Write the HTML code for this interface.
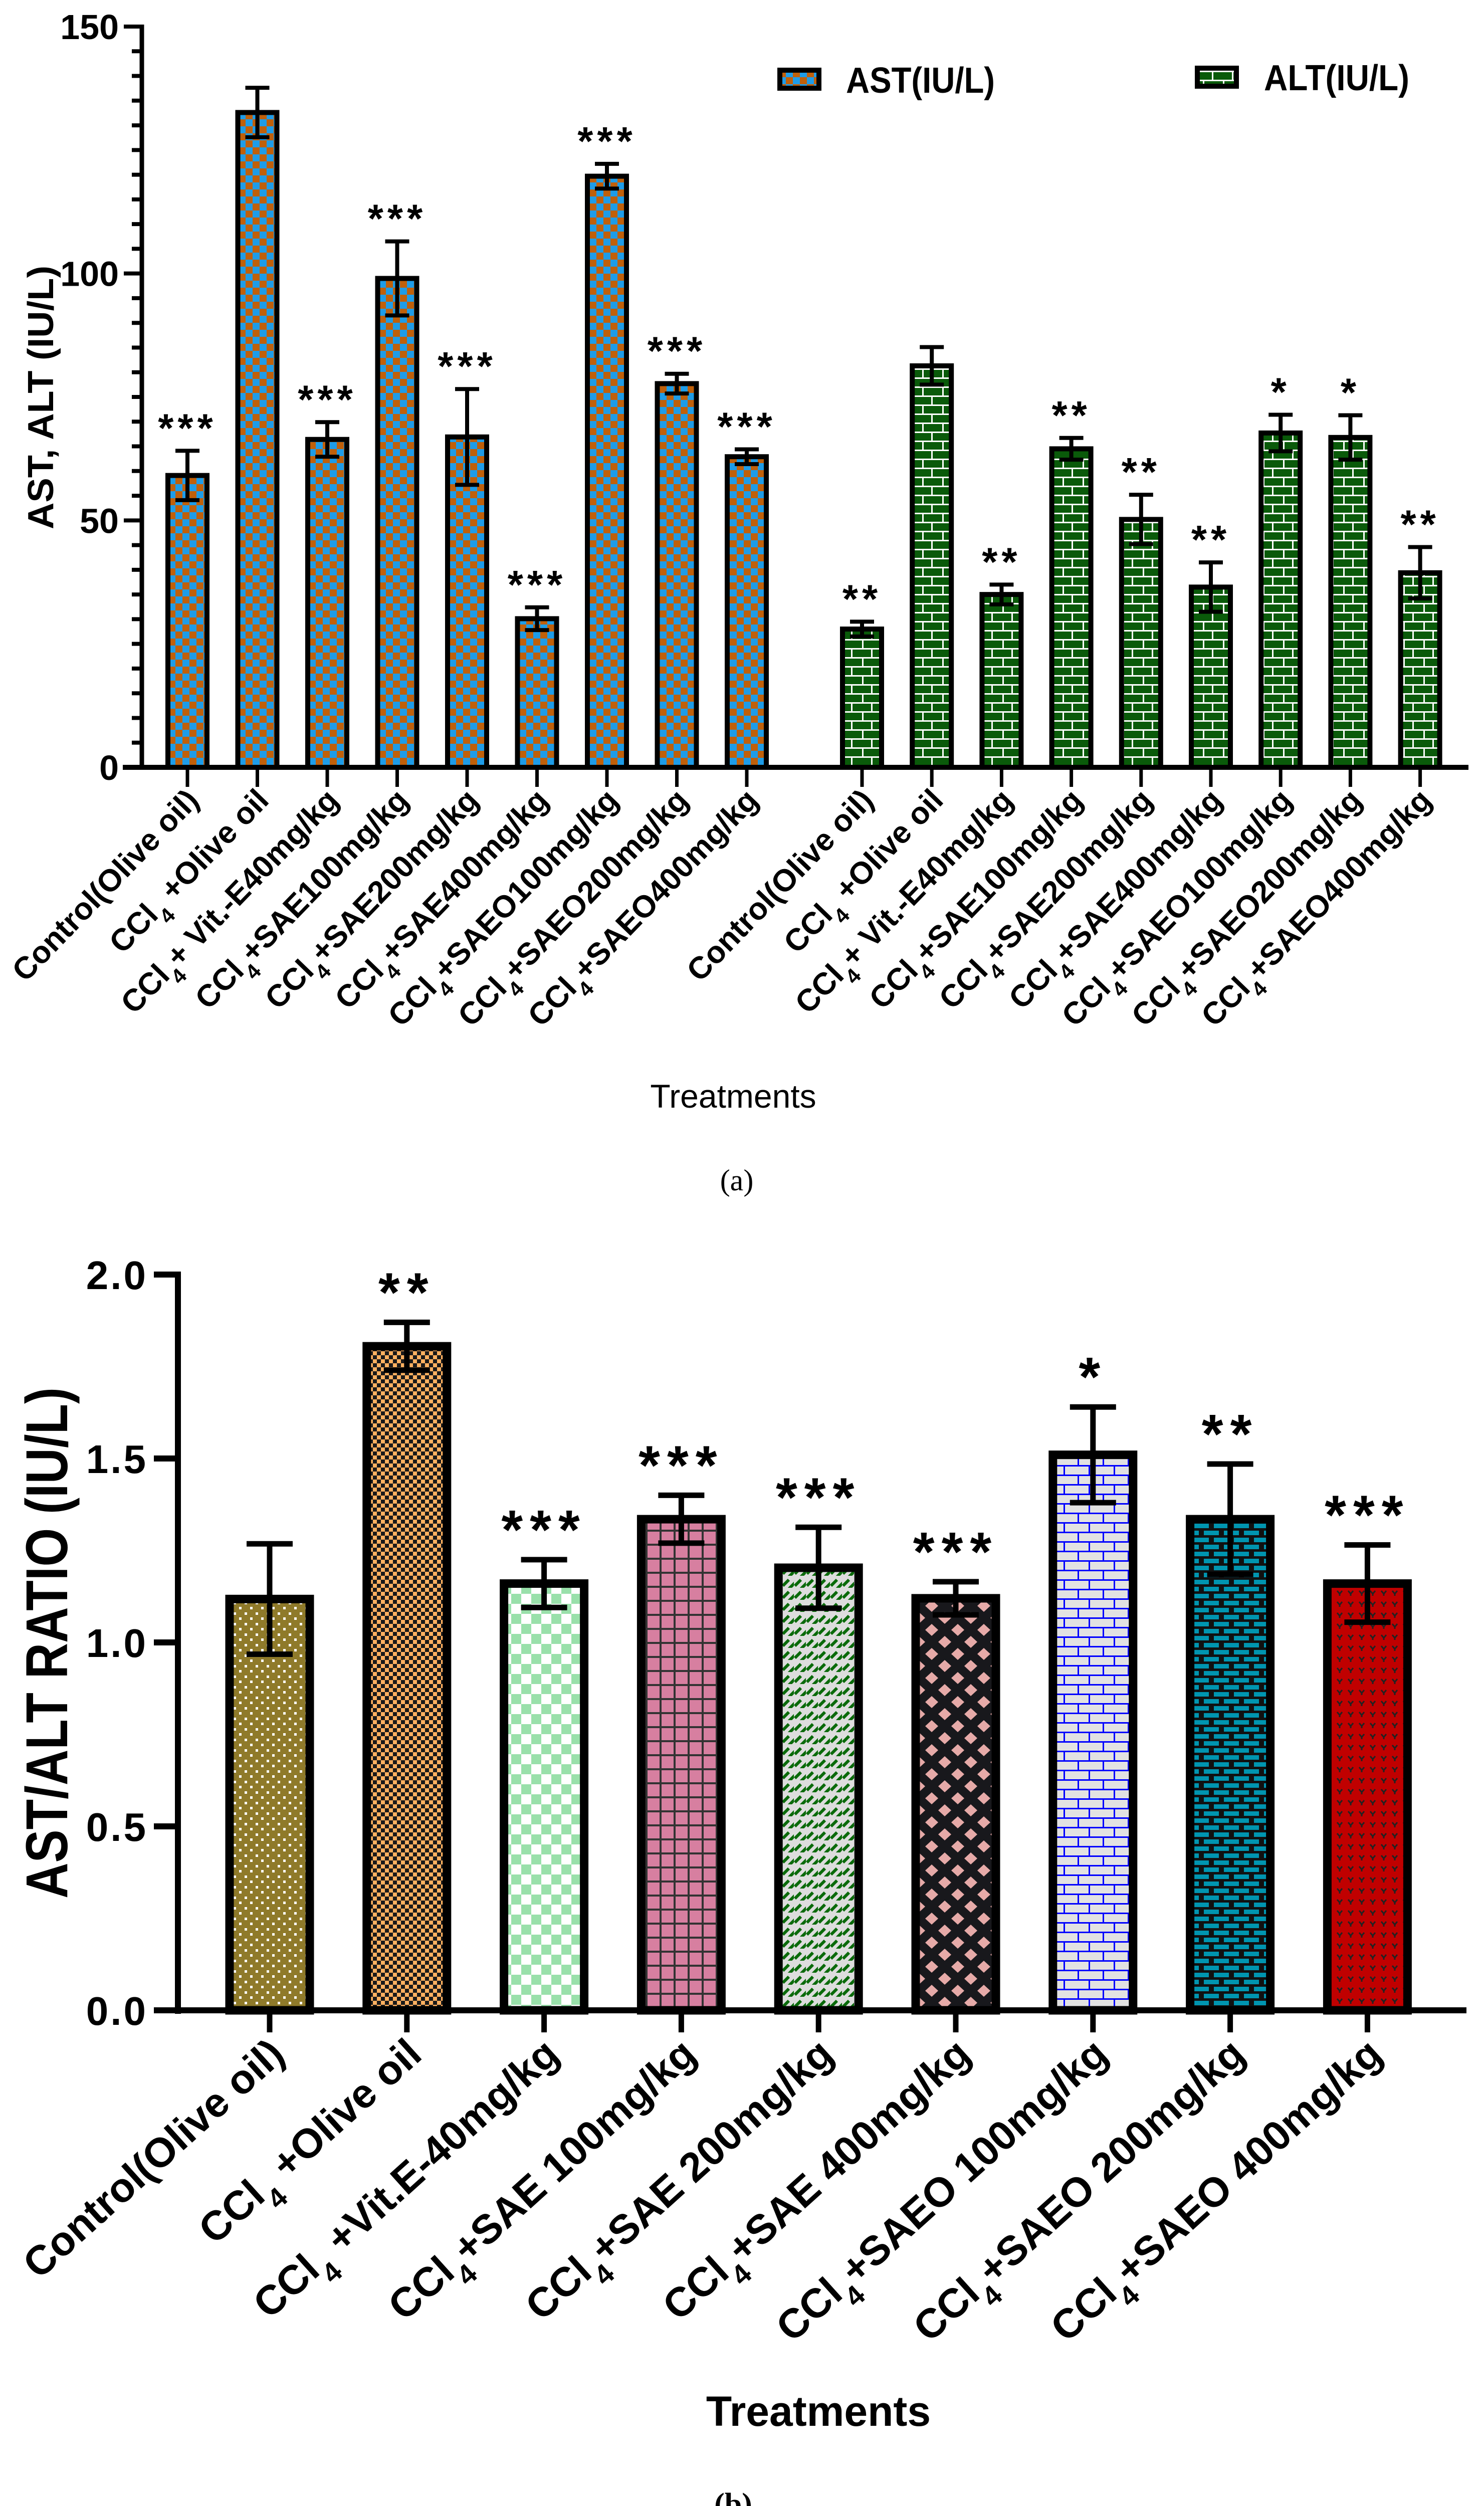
<!DOCTYPE html>
<html><head><meta charset="utf-8"><style>
html,body{margin:0;padding:0;background:#fff;width:2961px;height:5053px;overflow:hidden;}
svg{display:block;font-family:"Liberation Sans",Arial,sans-serif;}
</style></head><body>
<svg id="fig" width="2961" height="5053" viewBox="0 0 2961 5053" xmlns="http://www.w3.org/2000/svg">
<defs>
 <pattern id="pAST" width="28" height="28" patternUnits="userSpaceOnUse"><rect width="28" height="28" fill="#c0600a"/><rect width="14" height="14" fill="#1e9ce8"/><rect x="14" y="14" width="14" height="14" fill="#1e9ce8"/></pattern>
 <pattern id="pALT" width="40" height="36" patternUnits="userSpaceOnUse"><rect width="40" height="36" fill="#0a5a0a"/><rect y="15" width="40" height="3" fill="#fff"/><rect y="33" width="40" height="3" fill="#fff"/><rect x="18" y="0" width="3" height="18" fill="#fff"/><rect x="0" y="18" width="3" height="18" fill="#fff"/></pattern>
 <pattern id="pb1" width="22" height="21" patternUnits="userSpaceOnUse"><rect width="22" height="21" fill="#8f7a2a"/><rect x="4" y="4" width="5" height="5" fill="#fff"/><rect x="15" y="14" width="5" height="5" fill="#fff"/></pattern>
 <pattern id="pb2" width="16" height="16" patternUnits="userSpaceOnUse"><rect width="16" height="16" fill="#1a1a1a"/><rect width="8" height="8" fill="#ffb060"/><rect x="8" y="8" width="8" height="8" fill="#ffb060"/></pattern>
 <pattern id="pb3" width="40" height="40" patternUnits="userSpaceOnUse"><rect width="40" height="40" fill="#fff"/><rect width="20" height="20" fill="#99e0aa"/><rect x="20" y="20" width="20" height="20" fill="#99e0aa"/></pattern>
 <pattern id="pb4" width="28" height="28" patternUnits="userSpaceOnUse"><rect width="28" height="28" fill="#d77fa0"/><rect width="4" height="28" fill="#333"/><rect width="28" height="4" fill="#333"/></pattern>
 <pattern id="pb5" width="24" height="24" patternUnits="userSpaceOnUse"><rect width="24" height="24" fill="#ddd"/><path d="M2 20 L14 8" stroke="#0a6a0a" stroke-width="6"/><path d="M14 26 L26 14" stroke="#0a6a0a" stroke-width="6"/></pattern>
 <pattern id="pb6" width="52" height="48" patternUnits="userSpaceOnUse"><rect width="52" height="48" fill="#18181c"/><path d="M13 0 L26 12 L13 24 L0 12Z" fill="#e6aaa8"/><path d="M39 24 L52 36 L39 48 L26 36Z" fill="#e6aaa8"/></pattern>
 <pattern id="pb7" width="50" height="38" patternUnits="userSpaceOnUse"><rect width="50" height="38" fill="#e2e2e2"/><rect y="16" width="50" height="3" fill="#00f"/><rect y="35" width="50" height="3" fill="#00f"/><rect x="22" y="0" width="3" height="19" fill="#00f"/><rect x="0" y="19" width="3" height="19" fill="#00f"/></pattern>
 <pattern id="pb8" width="40" height="28" patternUnits="userSpaceOnUse"><rect width="40" height="28" fill="#111"/><rect x="2" y="2" width="30" height="9" fill="#0095b0"/><rect x="-18" y="16" width="30" height="9" fill="#0095b0"/><rect x="22" y="16" width="30" height="9" fill="#0095b0"/></pattern>
 <pattern id="pb9" width="22" height="22" patternUnits="userSpaceOnUse"><rect width="22" height="22" fill="#c00000"/><path d="M6 6 L11 12 L16 6 M11 12 L11 16" stroke="#222" stroke-width="3" fill="none"/></pattern>
</defs>
<g id="chartA"></g>
<g id="chartB"></g>
</svg>
<script>
// ---------- Chart (a) data ----------
const aCategories = ["Control(Olive oil)","CCl4 +Olive oil","CCl4+ Vit.-E40mg/kg","CCl4+SAE100mg/kg","CCl4+SAE200mg/kg","CCl4+SAE400mg/kg","CCl4+SAEO100mg/kg","CCl4+SAEO200mg/kg","CCl4+SAEO400mg/kg"];
const astValues = [59.1, 132.6, 66.4, 99, 66.9, 30.1, 119.7, 77.7, 62.9];
const astErrors = [5, 5, 3.5, 7.5, 9.7, 2.3, 2.5, 2, 1.5];
const astStars = ["***","","***","***","***","***","***","***","***"];
const altValues = [28, 81.3, 35, 64.5, 50.2, 36.5, 67.7, 66.8, 39.4];
const altErrors = [1.5, 3.8, 2, 2.2, 5, 5, 3.7, 4.5, 5.2];
const altStars = ["**","","**","**","**","**","*","*","**"];
const aTicks = [0, 50, 100, 150];
// ---------- Chart (b) data ----------
const bCategories = ["Control(Olive oil)","CCl4 +Olive oil","CCl4 +Vit.E-40mg/kg","CCl4+SAE 100mg/kg","CCl4+SAE 200mg/kg","CCl4+SAE 400mg/kg","CCl4+SAEO 100mg/kg","CCl4+SAEO 200mg/kg","CCl4+SAEO 400mg/kg"];
const ratioValues = [1.118, 1.805, 1.16, 1.335, 1.203, 1.12, 1.51, 1.335, 1.16];
const ratioErrors = [0.15, 0.065, 0.065, 0.065, 0.11, 0.045, 0.13, 0.15, 0.105];
const ratioStars = ["","**","***","***","***","***","*","**","***"];
const bTicks = [0.0, 0.5, 1.0, 1.5, 2.0];
const bTickLabels = ["0.0","0.5","1.0","1.5","2.0"];

const NS = "http://www.w3.org/2000/svg";
function mk(parent, tag, attrs){const e=document.createElementNS(NS,tag);for(const k in attrs)e.setAttribute(k,attrs[k]);parent.appendChild(e);return e;}
function labelText(t, str, subSize){
  const idx = str.indexOf("CCl4");
  if(idx<0){t.textContent=str;return;}
  const a=document.createElementNS(NS,"tspan");a.textContent=str.slice(0,idx)+"CCl";t.appendChild(a);
  const s=document.createElementNS(NS,"tspan");s.textContent="4";s.setAttribute("font-size",subSize);s.setAttribute("baseline-shift","sub");t.appendChild(s);
  const r=document.createElementNS(NS,"tspan");r.textContent=str.slice(idx+4);t.appendChild(r);
}

// ===== Chart A =====
(function(){
  const g=document.getElementById("chartA");
  const y0=1531, y150=53, axX=283;
  const ya=v=>y0-(v-0)*(y0-y150)/150;
  const xAst=i=>374+i*139.5;
  const xAlt=i=>1720+i*139.2;
  let e=mk(g,"line",{x1:axX,y1:y150-4,x2:axX,y2:y0+5,stroke:"#000","stroke-width":9});
  
  
  for(let v=0;v<=150;v+=5){
    const major=aTicks.includes(v);
    e=mk(g,"line",{x1:major?247:263,y1:ya(v),x2:axX,y2:ya(v),stroke:"#000","stroke-width":8});
    
    
  }
  aTicks.forEach(v=>{
    const t=mk(g,"text",{x:237,y:ya(v)+25,"text-anchor":"end","font-size":70,"font-weight":"bold"});
    t.textContent=String(v);
    
    
  });
  const yt=mk(g,"text",{x:0,y:0,transform:"translate(106,793) rotate(-90)","text-anchor":"middle","font-size":72,"font-weight":"bold",textLength:526,lengthAdjust:"spacingAndGlyphs"});
  yt.textContent="AST, ALT (IU/L)";
  
  
  e=mk(g,"line",{x1:245,y1:y0,x2:2930,y2:y0,stroke:"#000","stroke-width":10});
  
  
  function drawSeries(vals,errs,stars,xf,fill,name){
    vals.forEach((v,i)=>{
      const cx=xf(i);
      const r=mk(g,"rect",{x:cx-39,y:ya(v),width:78,height:y0-ya(v),fill:fill,stroke:"#000","stroke-width":10});
      
      
      const top=ya(v+errs[i]), bot=ya(v-errs[i]);
      const eb=mk(g,"path",{d:`M${cx-24} ${top}H${cx+24}M${cx} ${top}V${bot}M${cx-24} ${bot}H${cx+24}`,stroke:"#000","stroke-width":8,fill:"none"});
      
      
      const tk=mk(g,"line",{x1:cx,y1:y0,x2:cx,y2:1570,stroke:"#000","stroke-width":7});
      
      
      if(stars[i]){
        const s=mk(g,"text",{x:cx,y:top-18,"text-anchor":"middle","font-size":80,"font-weight":"bold","letter-spacing":8});
        s.textContent=stars[i];
        
        
      }
      const lt=mk(g,"text",{x:0,y:0,transform:`translate(${cx+26},${1600}) rotate(-46)`,"text-anchor":"end","font-size":62,"font-weight":"bold"});
      labelText(lt,aCategories[i],42);
      
      
    });
  }
  drawSeries(astValues,astErrors,astStars,xAst,"url(#pAST)","ast");
  drawSeries(altValues,altErrors,altStars,xAlt,"url(#pALT)","alt");
  let sw=mk(g,"rect",{x:1556,y:140,width:78,height:36,fill:"url(#pAST)",stroke:"#000","stroke-width":10});
  
  
  let lt=mk(g,"text",{x:1688,y:185,"font-size":72,"font-weight":"bold",textLength:297,lengthAdjust:"spacingAndGlyphs"});
  lt.textContent="AST(IU/L)";
  
  
  sw=mk(g,"rect",{x:2389,y:136,width:78,height:36,fill:"url(#pALT)",stroke:"#000","stroke-width":10});
  
  
  lt=mk(g,"text",{x:2522,y:180,"font-size":72,"font-weight":"bold",textLength:290,lengthAdjust:"spacingAndGlyphs"});
  lt.textContent="ALT(IU/L)";
  
  
  const xt=mk(g,"text",{x:1463,y:2210,"text-anchor":"middle","font-size":66});
  xt.textContent="Treatments";
  
  
  const cap=mk(g,"text",{x:1470,y:2375,"text-anchor":"middle","font-size":60,"font-family":"Liberation Serif, serif"});
  cap.textContent="(a)";
  
  
})();

// ===== Chart B =====
(function(){
  const g=document.getElementById("chartB");
  const y0=4011, y2=2543, axX=355;
  const yb=v=>y0-v*(y0-y2)/2;
  const xb=i=>538+i*273.8;
  const fills=["url(#pb1)","url(#pb2)","url(#pb3)","url(#pb4)","url(#pb5)","url(#pb6)","url(#pb7)","url(#pb8)","url(#pb9)"];
  let e=mk(g,"line",{x1:axX,y1:y2-6,x2:axX,y2:y0+7,stroke:"#000","stroke-width":12});
  
  
  bTicks.forEach((v,k)=>{
    e=mk(g,"line",{x1:307,y1:yb(v),x2:axX,y2:yb(v),stroke:"#000","stroke-width":12});
    
    
    const t=mk(g,"text",{x:295,y:yb(v)+29,"text-anchor":"end","font-size":80,"font-weight":"bold","letter-spacing":4});
    t.textContent=bTickLabels[k];
    
    
  });
  const yt=mk(g,"text",{x:0,y:0,transform:"translate(134,3278) rotate(-90)","text-anchor":"middle","font-size":118,"font-weight":"bold",textLength:1020,lengthAdjust:"spacingAndGlyphs"});
  yt.textContent="AST/ALT RATIO (IU/L)";
  
  
  e=mk(g,"line",{x1:307,y1:y0,x2:2926,y2:y0,stroke:"#000","stroke-width":12});
  
  
  ratioValues.forEach((v,i)=>{
    const cx=xb(i);
    const r=mk(g,"rect",{x:cx-80,y:yb(v),width:160,height:y0-yb(v),fill:fills[i],stroke:"#000","stroke-width":17});
    
    
    const top=yb(v+ratioErrors[i]), bot=yb(v-ratioErrors[i]);
    const eb=mk(g,"path",{d:`M${cx-46} ${top}H${cx+46}M${cx} ${top}V${bot}M${cx-46} ${bot}H${cx+46}`,stroke:"#000","stroke-width":11,fill:"none"});
    
    
    const tk=mk(g,"line",{x1:cx,y1:y0,x2:cx,y2:4055,stroke:"#000","stroke-width":11});
    
    
    if(ratioStars[i]){
      const s=mk(g,"text",{x:cx,y:top-22,"text-anchor":"middle","font-size":110,"font-weight":"bold","letter-spacing":14});
      s.textContent=ratioStars[i];
      
      
    }
    const lt=mk(g,"text",{x:0,y:0,transform:`translate(${cx+34},${4105}) rotate(-42)`,"text-anchor":"end","font-size":82,"font-weight":"bold"});
    labelText(lt,bCategories[i],56);
    
    
  });
  const xt=mk(g,"text",{x:1633,y:4840,"text-anchor":"middle","font-size":84,"font-weight":"bold"});
  xt.textContent="Treatments";
  
  
  const cap=mk(g,"text",{x:1463,y:5017,"text-anchor":"middle","font-size":62,"font-weight":"bold","font-family":"Liberation Serif, serif"});
  cap.textContent="(b)";
  
  
})();
</script>
</body></html>
